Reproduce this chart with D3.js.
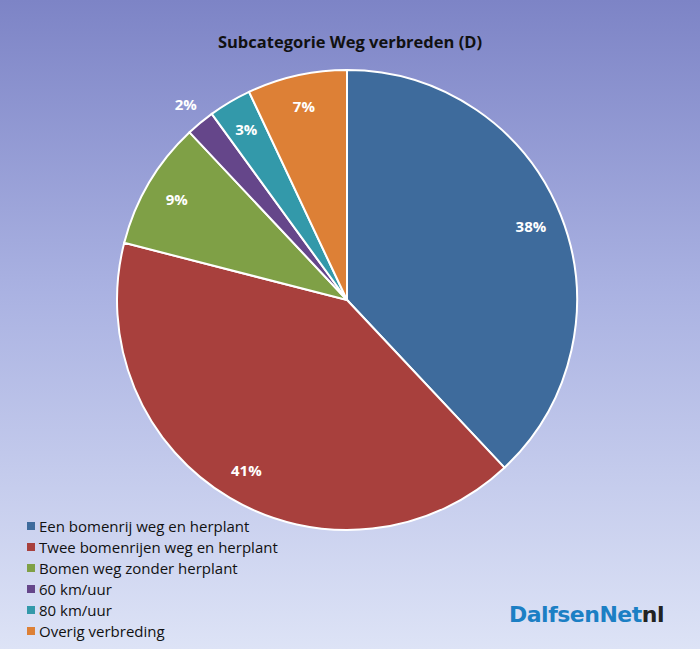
<!DOCTYPE html>
<html><head><meta charset="utf-8">
<script src="https://cdn.jsdelivr.net/npm/d3@7"></script>
<style>body{margin:0}</style></head>
<body><svg id="chart" width="700" height="649"></svg>
<script>
// data
const categories = ["Een bomenrij weg en herplant", "Twee bomenrijen weg en herplant", "Bomen weg zonder herplant", "60 km/uur", "80 km/uur", "Overig verbreding"]
const values = [38, 41, 9, 2, 3, 7]
const colors = ["#3e6b9c", "#a8403d", "#7fa046", "#65468a", "#3399aa", "#dd8036"]

const width = 700, height = 649
const cx = 347, cy = 300, r = 230
const font = "'Open Sans', 'Noto Sans', sans-serif"

const svg = d3.select('#chart')

// background
const grad = svg.append('defs').append('linearGradient')
  .attr('id', 'bg').attr('x1', 0).attr('y1', 0).attr('x2', 0).attr('y2', 1)
grad.append('stop').attr('offset', '0%').attr('stop-color', '#7d84c6')
grad.append('stop').attr('offset', '45%').attr('stop-color', '#aab2e2')
grad.append('stop').attr('offset', '100%').attr('stop-color', '#dde3f6')
svg.append('rect').attr('width', width).attr('height', height).attr('fill', 'url(#bg)')

svg.append('text')
  .attr('x', 350).attr('y', 48)
  .attr('text-anchor', 'middle')
  .attr('font-family', font).attr('font-weight', 'bold').attr('font-size', 16.5)
  .attr('fill', '#111')
  .text('Subcategorie Weg verbreden (D)')

// pie
const pie = d3.pie().sort(null).value(d => d)
const arcs = pie(values)
const arc = d3.arc().innerRadius(0).outerRadius(r)
const labelArc = d3.arc().innerRadius(r * 0.86).outerRadius(r * 0.86)
const outArc = d3.arc().innerRadius(r * 1.1).outerRadius(r * 1.1)

const g = svg.append('g').attr('transform', `translate(${cx},${cy})`)
g.selectAll('path').data(arcs).join('path')
  .attr('d', arc)
  .attr('fill', (d, i) => colors[i])
  .attr('stroke', '#fff').attr('stroke-width', 2)

g.selectAll('text.lbl').data(arcs).join('text')
  .attr('class', 'lbl')
  .attr('transform', d => `translate(${(d.data < 3 ? outArc : labelArc).centroid(d)})`)
  .attr('text-anchor', 'middle').attr('dy', '0.35em')
  .attr('font-family', font).attr('font-weight', 'bold').attr('font-size', 15)
  .attr('fill', '#fff')
  .text(d => d.data + '%')

// legend
const legend = svg.append('g').attr('transform', 'translate(27,527)')
const items = legend.selectAll('g').data(categories).join('g')
  .attr('transform', (d, i) => `translate(0,${i * 21})`)
items.append('rect').attr('x', 0).attr('y', -5).attr('width', 8).attr('height', 8)
  .attr('fill', (d, i) => colors[i])
items.append('text').attr('x', 12).attr('y', 0).attr('dy', '0.35em')
  .attr('font-family', font).attr('font-size', 15).attr('fill', '#111')
  .text(d => d)

// logo
const logo = svg.append('text').attr('x', 509).attr('y', 622)
  .attr('font-family', "'DejaVu Sans', sans-serif").attr('font-weight', 'bold').attr('font-size', 22)
  .attr('letter-spacing', -0.5)
logo.append('tspan').attr('fill', '#1c7fc4').text('DalfsenNet')
logo.append('tspan').attr('fill', '#222').text('nl')
</script></body></html>
